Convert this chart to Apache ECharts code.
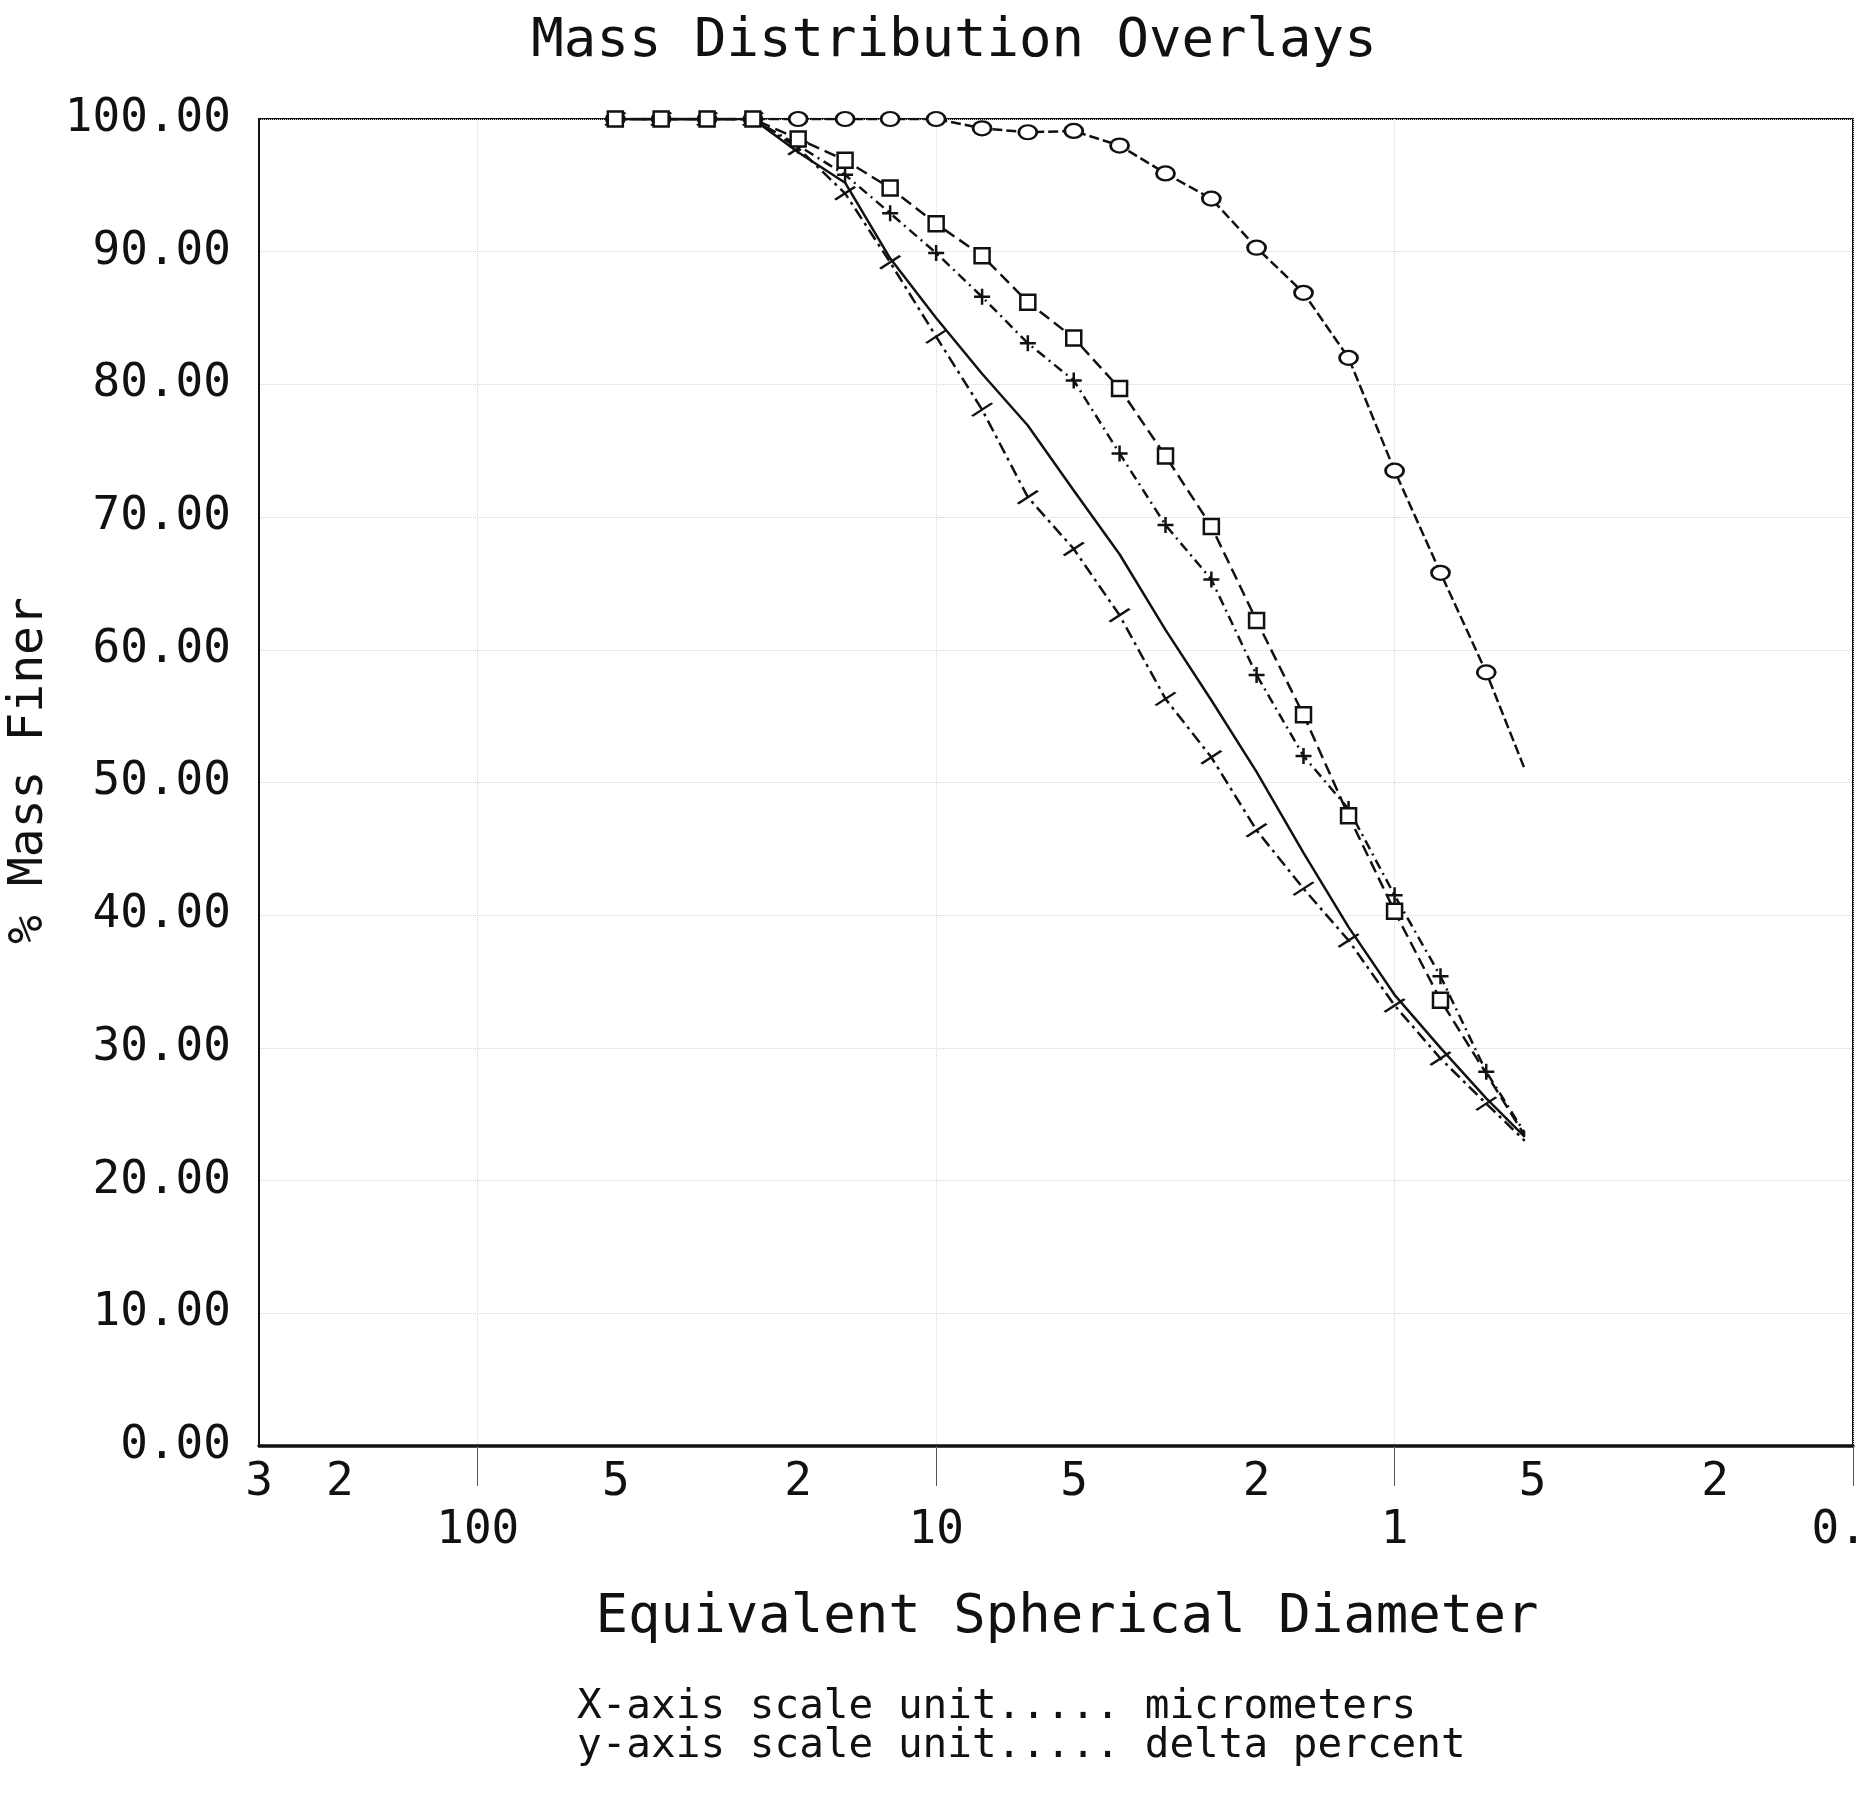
<!DOCTYPE html>
<html>
<head>
<meta charset="utf-8">
<title>Mass Distribution Overlays</title>
<script src="https://cdn.jsdelivr.net/npm/echarts@6/dist/echarts.min.js"></script>
<style>
  html, body { margin: 0; padding: 0; background: #fff; }
  #chart { width: 1860px; height: 1793px; }
</style>
</head>
<body>
<div id="chart"></div>
<script>
// Equivalent spherical diameter (micrometers) of each sample point
const diameters = [50.1, 39.8, 31.6, 25.1, 20.0, 15.8, 12.6, 10.0, 7.94, 6.31, 5.01,
                   3.98, 3.16, 2.51, 2.00, 1.58, 1.26, 1.00, 0.794, 0.631, 0.52];

// Cumulative % mass finer for each overlaid sample
const circleFiner = [100, 100, 100, 100, 100, 100, 100, 100, 99.3, 99.0, 99.1,
                     98.0, 95.9, 94.0, 90.3, 86.9, 82.0, 73.5, 65.8, 58.3, 51.0];
const squareFiner = [100, 100, 100, 100, 98.5, 96.9, 94.8, 92.1, 89.7, 86.2, 83.5,
                     79.7, 74.6, 69.3, 62.2, 55.1, 47.5, 40.3, 33.6, null, 23.4];
const plusFiner   = [100, 100, 100, 100, 98.0, 95.8, 92.9, 89.9, 86.6, 83.1, 80.3,
                     74.8, 69.4, 65.3, 58.1, 52.0, 48.0, 41.5, 35.4, 28.2, 23.6];
const tickFiner   = [100, 100, 100, 100, 97.8, 94.4, 89.2, 83.6, 78.1, 71.5, 67.6,
                     62.6, 56.3, 51.9, 46.4, 42.0, 38.1, 33.2, 29.2, 25.8, 23.0];
const plainFiner  = [100, 100, 100, 100, 97.5, 95.2, 89.5, 85.0, 80.8, 76.9, 72.0,
                     67.2, 61.5, 56.2, 50.8, 44.7, 39.1, 34.0, 30.0, 26.2, 23.3];

// Axis tick values
const minorLabelValues = [300, 200, 50, 20, 5, 2, 0.5, 0.2];
const decadeLabelValues = [100, 10, 1, 0.1];
const yTicks = [0, 10, 20, 30, 40, 50, 60, 70, 80, 90, 100];

const MONO = '"DejaVu Sans Mono", "Liberation Mono", monospace';
const INK = '#111';

function leadingDigit(v) {
  const d = Number(Number(v).toPrecision(3));
  const p = Math.pow(10, Math.floor(Math.log10(d) + 1e-9));
  return String(Math.round(d / p));
}

// Pair diameters with values; the final point is a bare line end
function pairs(values) {
  return diameters.map((d, i) => {
    const item = { value: [d, values[i] === null ? '-' : values[i]] };
    if (i === diameters.length - 1) item.symbol = 'none';
    return item;
  });
}

function lineSeries(name, values, symbol, size, dash, z) {
  const filled = symbol === 'circle' || symbol === 'rect';
  return {
    name: name,
    type: 'line',
    xAxisIndex: 0,
    yAxisIndex: 0,
    data: pairs(values),
    connectNulls: true,
    symbol: symbol,
    symbolSize: size,
    showSymbol: symbol !== 'none',
    z: z,
    lineStyle: { color: INK, width: 2.5, type: dash },
    itemStyle: filled
      ? { color: '#fff', borderColor: INK, borderWidth: 2.5 }
      : { color: 'rgba(0,0,0,0)', borderColor: INK, borderWidth: 2.5 },
    emphasis: { disabled: true }
  };
}

const chart = echarts.init(document.getElementById('chart'), null, { renderer: 'canvas' });

chart.setOption({
  animation: false,
  backgroundColor: '#fff',
  title: [
    {
      text: 'Mass Distribution Overlays',
      left: 949,
      top: 10,
      textAlign: 'center',
      textStyle: { fontFamily: MONO, fontSize: 54, fontWeight: 'normal', color: INK }
    },
    {
      text: 'X-axis scale unit..... micrometers\ny-axis scale unit..... delta percent',
      left: 572,
      top: 1683,
      textStyle: { fontFamily: MONO, fontSize: 41, fontWeight: 'normal', color: INK, lineHeight: 39 }
    }
  ],
  grid: {
    left: 259, right: 7, top: 119, bottom: 347,
    outerBoundsMode: 'none',
    containLabel: false,
    show: true, borderColor: INK, borderWidth: 2, backgroundColor: 'transparent'
  },
  xAxis: [
    {
      type: 'log', logBase: 10, inverse: true, min: 0.1, max: 300,
      position: 'bottom',
      name: 'Equivalent Spherical Diameter',
      nameLocation: 'middle', nameGap: 145,
      nameTextStyle: { fontFamily: MONO, fontSize: 54, color: INK, padding: [0, 0, 0, 22] },
      axisLine: { show: true, lineStyle: { color: INK, width: 3.5 } },
      axisTick: { show: false },
      splitLine: { show: false },
      axisLabel: {
        customValues: minorLabelValues,
        formatter: leadingDigit,
        fontFamily: MONO, fontSize: 46, color: INK, margin: 14
      }
    },
    {
      type: 'log', logBase: 10, inverse: true, min: 0.1, max: 300,
      position: 'bottom',
      axisLine: { show: false },
      axisTick: {
        show: true, customValues: decadeLabelValues, inside: false, length: 40,
        lineStyle: { color: '#555', width: 1 }
      },
      splitLine: { show: true, lineStyle: { color: '#d6d6d6', type: 'dotted', width: 1 } },
      axisLabel: {
        customValues: decadeLabelValues,
        formatter: v => String(Number(Number(v).toPrecision(3))),
        fontFamily: MONO, fontSize: 46, color: INK, margin: 62
      }
    }
  ],
  yAxis: {
    type: 'value', min: 0, max: 100, interval: 10,
    name: '% Mass Finer',
    nameLocation: 'middle', nameGap: 204, nameRotate: 90,
    nameTextStyle: { fontFamily: MONO, fontSize: 48, color: INK, padding: [0, 0, 0, 24] },
    axisLine: { show: true, lineStyle: { color: INK, width: 2 } },
    axisTick: { show: false },
    splitLine: { show: true, lineStyle: { color: '#d6d6d6', type: 'dotted', width: 1 } },
    axisLabel: {
      customValues: yTicks,
      formatter: v => Number(v).toFixed(2),
      fontFamily: MONO, fontSize: 46, color: INK, margin: 28
    }
  },
  series: [
    lineSeries('Sample E', plainFiner, 'none', 0, 'solid', 2),
    lineSeries('Sample D', tickFiner, 'path://M0,11L16,0', [20, 13], [12, 5, 3, 5], 3),
    lineSeries('Sample C', plusFiner, 'path://M6,0L6,12M0,6L12,6', 16, [10, 5, 2, 5], 4),
    lineSeries('Sample A', circleFiner, 'circle', [18, 14], [10, 4], 5),
    lineSeries('Sample B', squareFiner, 'rect', 15, [12, 6], 6)
  ]
});
</script>
</body>
</html>
